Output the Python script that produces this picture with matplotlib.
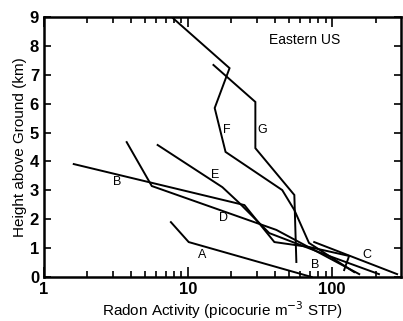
import matplotlib
matplotlib.use('Agg')
import matplotlib.pyplot as plt
from matplotlib.ticker import FixedLocator, NullFormatter

plt.rcParams['font.family'] = ['Liberation Sans Narrow', 'Liberation Sans', 'DejaVu Sans']

# radon profiles (picocurie m^-3 STP) vs height (km)
a_x = [7.6, 10.1, 72]
a_y = [1.9, 1.21, 0.0]
b_x = [1.61, 24.6, 39.7, 69, 131, 121]
b_y = [3.91, 2.49, 1.21, 1.04, 0.73, 0.24]
c_x = [75, 282]
c_y = [1.21, 0.1]
d_x = [3.75, 5.6, 41, 154]
d_y = [4.67, 3.15, 1.63, 0.1]
e_x = [6.15, 17.3, 22.7, 36.6, 95, 211]
e_y = [4.57, 3.11, 2.56, 1.52, 0.73, 0.1]
f_x = [7.7, 19.4, 15.3, 18.2, 45, 54.6, 69, 142]
f_y = [9.0, 7.23, 5.85, 4.33, 3.01, 2.32, 1.18, 0.17]
g_x = [15.0, 29.3, 29.3, 54.6, 56.4]
g_y = [7.34, 6.06, 4.46, 2.84, 0.52]

labels = ['A', 'B', 'B', 'C', 'D', 'E', 'F', 'G']
label_x = [12.6, 3.2, 76, 175, 17.6, 15.5, 18.5, 32.8]
label_y = [0.76, 3.29, 0.41, 0.76, 2.04, 3.53, 5.09, 5.09]

x_ticks = [1, 10, 100]
x_ticklabels = ['1', '10', '100']
y_ticks = list(range(10))

fig = plt.figure(figsize=(4.03, 3.21), dpi=100)
ax = fig.add_axes([0.109, 0.137, 0.886, 0.81])

for xs, ys in [(a_x, a_y), (b_x, b_y), (c_x, c_y), (d_x, d_y),
               (e_x, e_y), (f_x, f_y), (g_x, g_y)]:
    ax.plot(xs, ys, color='black', lw=1.4, solid_joinstyle='miter')

for t, x, y in zip(labels, label_x, label_y):
    ax.text(x, y, t, ha='center', va='center', fontsize=9)

ax.text(64, 8.2, 'Eastern US', ha='center', va='center', fontsize=10)

ax.set_xscale('log')
ax.set_xlim(1, 300)
ax.set_ylim(0, 9)
ax.xaxis.set_major_locator(FixedLocator(x_ticks))
ax.set_xticklabels(x_ticklabels)
minors = [m * d for d in (1, 10, 100) for m in range(2, 10) if m * d < 300]
ax.xaxis.set_minor_locator(FixedLocator(minors))
ax.xaxis.set_minor_formatter(NullFormatter())
ax.set_yticks(y_ticks)

ax.tick_params(axis='x', which='both', direction='in', top=True, labelsize=12, width=1.2)
ax.tick_params(axis='x', which='major', length=7)
ax.tick_params(axis='x', which='minor', length=4)
ax.tick_params(axis='y', which='major', direction='in', right=True, length=5,
               labelsize=12, width=1.2)
for lab in ax.get_xticklabels() + ax.get_yticklabels():
    lab.set_fontweight('bold')

for s in ax.spines.values():
    s.set_linewidth(1.8)

ax.set_xlabel('Radon Activity (picocurie m$^{-3}$ STP)', fontsize=11, labelpad=2)
ax.set_ylabel('Height above Ground (km)', fontsize=11, labelpad=2)

fig.savefig('out.png', dpi=100)
